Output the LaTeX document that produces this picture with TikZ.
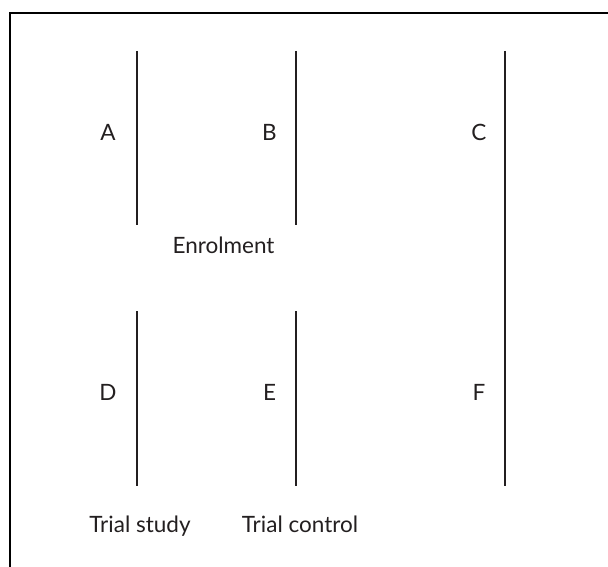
\documentclass[tikz,border=0pt]{standalone}
\usepackage{fontspec}
\setmainfont{Lato}
\definecolor{ink}{HTML}{231F20}
\begin{document}
\begin{tikzpicture}[x=1pt,y=-1pt,
  divider/.style={draw=ink,line width=1.4pt},
  frame/.style={draw=black,line width=2pt},
  lbl/.style={text=ink,font=\fontsize{22.5}{27}\selectfont,inner sep=0pt,anchor=base}]
\useasboundingbox (0,0) rectangle (608,567);
% frame (top and left edges only visible)
\draw[frame] (608,13) -- (10,13) -- (10,567);
% dividers
\draw[divider] (137,51) -- (137,225);
\draw[divider] (296,51) -- (296,225);
\draw[divider] (505,51) -- (505,486);
\draw[divider] (137,311) -- (137,486);
\draw[divider] (296,311) -- (296,486);
% labels
\node[lbl] (A) at (108,140.5) {A};
\node[lbl] (B) at (269.5,140.5) {B};
\node[lbl] (C) at (479,140.5) {C};
\node[lbl] (D) at (108,400) {D};
\node[lbl] (E) at (269.5,400) {E};
\node[lbl] (F) at (479,400) {F};
\node[lbl] (enrol) at (223.5,253) {Enrolment};
\node[lbl] (study) at (140,532) {Trial study};
\node[lbl] (control) at (300,532) {Trial control};
\end{tikzpicture}
\end{document}
